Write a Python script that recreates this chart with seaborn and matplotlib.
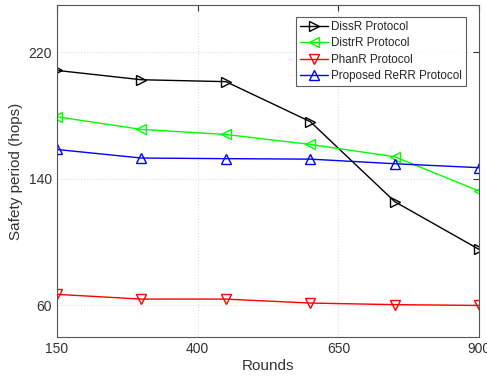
import matplotlib
matplotlib.use("Agg")
import matplotlib.pyplot as plt
import seaborn as sns
import pandas as pd

rounds = [150, 300, 450, 600, 750, 900]
dissr = [208.6, 202.7, 201.5, 176.2, 125.6, 95.4]
distrr = [179.3, 171.3, 168.1, 161.8, 154.0, 132.3]
phanr = [67.0, 64.0, 64.0, 61.5, 60.5, 60.0]
rerr = [158.6, 153.2, 152.8, 152.5, 149.6, 147.1]

series_names = ["DissR Protocol", "DistrR Protocol", "PhanR Protocol", "Proposed ReRR Protocol"]
series_vals = [dissr, distrr, phanr, rerr]
colors = ["black", "#00ff00", "red", "blue"]
markers = [">", "<", "v", "^"]

sns.set_style("white")
plt.rcParams['font.family'] = ['Liberation Sans', 'DejaVu Sans']

fig = plt.figure(figsize=(4.87, 3.8), dpi=100)
ax = fig.add_axes([0.117, 0.113, 0.867, 0.874])

for name, vals, c, m in zip(series_names, series_vals, colors, markers):
    df = pd.DataFrame({"Rounds": rounds, "val": vals})
    sns.lineplot(data=df, x="Rounds", y="val", ax=ax, color=c, marker=m,
                 markersize=7.5, fillstyle="none", markeredgecolor=c,
                 markeredgewidth=1.0, linewidth=1.0, label=name)

ax.set_xlim(150, 900)
ax.set_ylim(40, 250)
ax.set_xticks([150, 400, 650, 900])
ax.set_yticks([60, 140, 220])
ax.grid(True, linestyle=":", color="#dddddd", linewidth=0.8)
ax.tick_params(direction="in", length=4, top=True, right=True, labelsize=10,
               colors="#333333", width=0.8)
for s in ax.spines.values():
    s.set_color("#555555")
    s.set_linewidth(0.8)
ax.set_xlabel("Rounds", fontsize=11, color="#333333", labelpad=2)
ax.set_ylabel("Safety period (hops)", fontsize=11, color="#333333", labelpad=4)

leg = ax.legend(loc="upper right", bbox_to_anchor=(0.969, 0.964), fontsize=8.4,
                frameon=True, fancybox=False, edgecolor="#333333", borderaxespad=0,
                borderpad=0.35, labelspacing=0.38, handlelength=2.4, handletextpad=0.3)
leg.get_frame().set_linewidth(0.8)

fig.savefig("out.png", dpi=100)
